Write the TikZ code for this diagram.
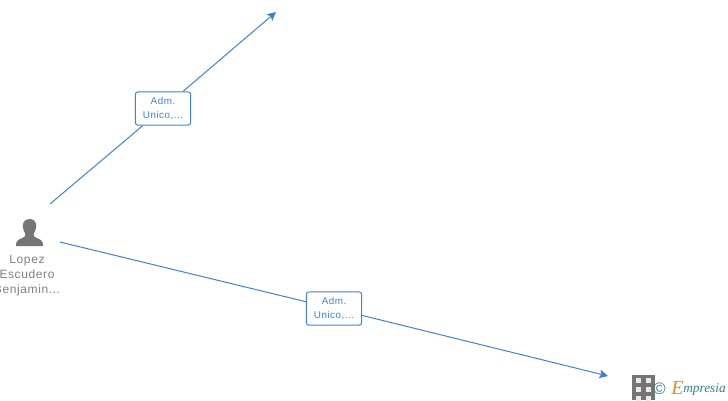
\documentclass[tikz,border=0pt]{standalone}
\usepackage{fontspec}
\setmainfont{Liberation Sans}
\newfontfamily\spacedfont[LetterSpace=5]{Liberation Sans}
\newfontfamily\logofont{Liberation Serif}
\usetikzlibrary{arrows.meta}
\definecolor{linkblue}{HTML}{3D80E0}
\definecolor{personcol}{HTML}{757575}
\definecolor{namecol}{HTML}{808080}
\definecolor{logoteal}{HTML}{2F7F93}
\definecolor{logoorange}{HTML}{EE8A1D}
\tikzset{
  linkbox/.style={draw=linkblue, fill=white, rounded corners=2pt, line width=0.75pt, minimum width=41.5pt, minimum height=25pt, inner sep=0pt, align=center, text=linkblue, font=\spacedfont\fontsize{7.4}{11}\selectfont},
  linkline/.style={draw=linkblue, line width=0.75pt},
  linkarrow/.style={linkline, -{Stealth[length=6.5pt, width=6.5pt, inset=1.4pt]}},
  namelabel/.style={align=center, inner sep=0pt, text=namecol, font=\spacedfont\fontsize{9}{11}\selectfont}
}
\begin{document}
\begin{tikzpicture}[x=0.75pt, y=-0.75pt]
\useasboundingbox (0,0) rectangle (728,400);
% person on the left
\fill[personcol] (30,219) .. controls (24,219) and (22,223.5) .. (23,228) .. controls (23.6,231) and (24.5,232.5) .. (25.5,234) .. controls (25.5,236.5) and (24,237.5) .. (21,238.5) .. controls (17,240) and (16,242) .. (16,246) -- (43,246) .. controls (43,242) and (42,240) .. (38,238.5) .. controls (35,237.5) and (33.5,236.5) .. (33.5,234) .. controls (34.5,232.5) and (35.4,231) .. (36,228) .. controls (37,223.5) and (35,219) .. (30,219) -- cycle;
\node[namelabel] (person) at (27,275.5) {Lopez\\Escudero\\Benjamin...};
% link ends
\coordinate (startup) at (50,204);
\coordinate (endup) at (276,12);
\coordinate (startdown) at (60,242);
\coordinate (enddown) at (608,376);
% the two links and their boxes
\node[linkbox] (admup) at (163,108.5) {Adm.\\Unico,...};
\node[linkbox] (admdown) at (334,308.5) {Adm.\\Unico,...};
\draw[linkline] (startup) -- (admup);
\draw[linkarrow] (admup) -- (endup);
\draw[linkline] (startdown) -- (admdown);
\draw[linkarrow] (admdown) -- (enddown);
% building, cut by the lower edge
\fill[personcol] (632,375) rectangle (655,400);
\foreach \x in {636,646}
  \foreach \y in {378,387,396}
    \fill[white!85!personcol] (\x,\y) rectangle (\x+5,\y+5);
% logo
\node[text=logoteal, inner sep=0pt, font=\fontsize{12.5}{13}\selectfont] (copy) at (659.5,389) {©};
\node[text=logoorange, inner sep=0pt, font=\logofont\itshape\fontsize{15}{15}\selectfont] (logoe) at (677.5,388) {E};
\node[text=logoteal, inner sep=0pt, anchor=base west, font=\logofont\itshape\fontsize{10}{11}\selectfont] (logotext) at (683,392) {mpresia};
\end{tikzpicture}
\end{document}
